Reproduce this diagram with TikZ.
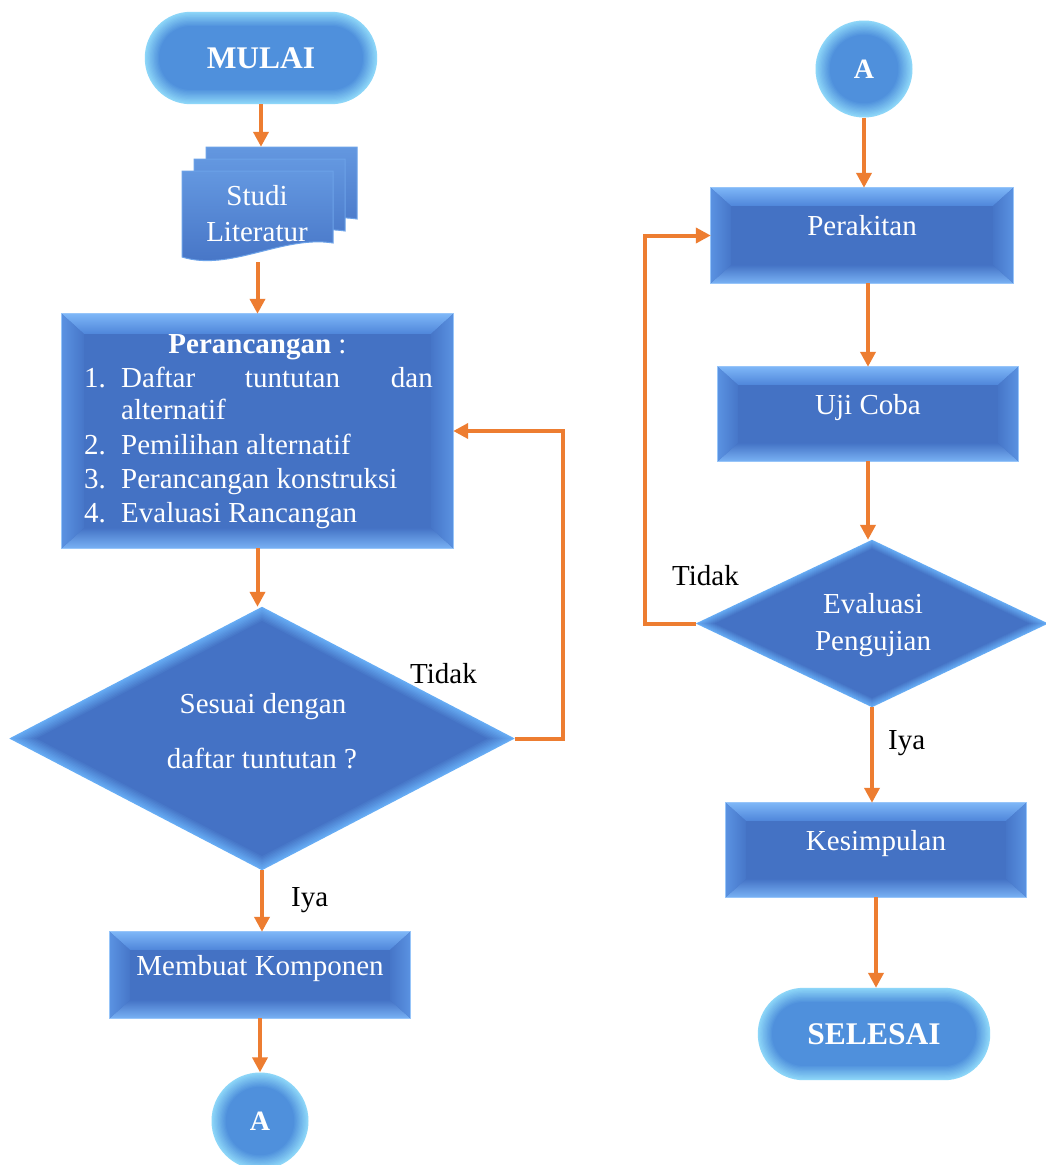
\documentclass[tikz,border=0pt]{standalone}
\usepackage{fontspec}
\setmainfont{Liberation Serif}
\usetikzlibrary{arrows.meta,calc,backgrounds}

\definecolor{face}{HTML}{4472C4}
\definecolor{bevlite}{HTML}{7DB6F7}
\definecolor{bevmid}{HTML}{4F86DA}
\definecolor{orng}{HTML}{ED7D31}
\definecolor{glowedge}{HTML}{8DD6F8}
\definecolor{glowcore}{HTML}{4E8FDC}
\definecolor{dmedge}{HTML}{66ACF4}

\newcommand\txtsz{\fontsize{29pt}{34pt}\selectfont}
\newcommand\capsz{\fontsize{31.5pt}{36pt}\selectfont\bfseries}

% bevelled process box drawn behind a node
\newcommand\bevelbox[3]{%
  \fill[face] (#1.north west) rectangle (#1.south east);
  \shade[top color=bevlite, bottom color=bevmid] (#1.north west) -- (#1.north east)
     -- ($(#1.north east)+(-#2,-#3)$) -- ($(#1.north west)+(#2,-#3)$) -- cycle;
  \shade[top color=face!90!bevmid, bottom color=bevlite!90!bevmid] (#1.south west) -- (#1.south east)
     -- ($(#1.south east)+(-#2,#3)$) -- ($(#1.south west)+(#2,#3)$) -- cycle;
  \shade[left color=bevmid!75!bevlite, right color=face!80!bevmid] (#1.north west)
     -- ($(#1.north west)+(#2,-#3)$) -- ($(#1.south west)+(#2,#3)$) -- (#1.south west) -- cycle;
  \shade[right color=bevmid!75!bevlite, left color=face!80!bevmid] (#1.north east)
     -- ($(#1.north east)+(-#2,-#3)$) -- ($(#1.south east)+(-#2,#3)$) -- (#1.south east) -- cycle;
  \draw[bevlite!80!white, line width=1pt] (#1.north west) rectangle (#1.south east);
}

% terminal with soft glowing rim
\newcommand\softpill[1]{%
  \foreach \k in {0,...,11}{%
    \pgfmathsetmacro\pins{1.3*\k}%
    \pgfmathsetmacro\prad{45.8-\pins}%
    \pgfmathtruncatemacro\pmix{100-9*\k}%
    \fill[glowedge!\pmix!glowcore, rounded corners=\prad pt]
      ($(#1.north west)+(\pins pt,-\pins pt)$) rectangle ($(#1.south east)+(-\pins pt,\pins pt)$);
  }}

% connector disc with soft rim
\newcommand\softdisc[1]{%
  \foreach \k in {0,...,11}{%
    \pgfmathsetmacro\drad{48.5-1.3*\k}%
    \pgfmathtruncatemacro\dmx{100-9*\k}%
    \fill[glowedge!\dmx!glowcore] (#1.center) circle[radius=\drad pt];
  }}

% decision diamond with soft rim, tips at the node's side anchors
\newcommand\softdiamond[1]{%
  \foreach \k in {0,...,9}{%
    \pgfmathsetmacro\dfac{1-0.012*\k}%
    \pgfmathtruncatemacro\dmix{100-11*\k}%
    \fill[dmedge!\dmix!face] ($(#1.center)!\dfac!(#1.north)$) -- ($(#1.center)!\dfac!(#1.east)$)
      -- ($(#1.center)!\dfac!(#1.south)$) -- ($(#1.center)!\dfac!(#1.west)$) -- cycle;
  }}

% one sheet of the multi-document symbol
\newcommand\docpage[2]{%
  \begin{scope}[shift={(#1,#2)}]
    \shadedraw[top color=bevlite!55!face, bottom color=face, draw=bevlite!70!face, line width=1pt]
      (0,0) -- (151,0) -- (151,72) .. controls (101,64) and (48,101) .. (0,86) -- cycle;
  \end{scope}}

\tikzset{
  flow/.style={draw=orng, line width=4pt, line join=miter, -{Triangle[length=15pt,width=15pt]}},
  boxnode/.style={rectangle, inner sep=0pt, text=white, font=\txtsz, text height=11pt, text depth=11pt},
  pillnode/.style={rectangle, inner sep=0pt, text=white, font=\capsz, minimum width=232pt, minimum height=92pt},
  discnode/.style={circle, inner sep=0pt, minimum size=97pt, text=white, font=\fontsize{28pt}{32pt}\selectfont\bfseries},
  region/.style={rectangle, inner sep=0pt},
  wtext/.style={text=white, font=\txtsz, inner sep=0pt},
  ktext/.style={text=black, font=\txtsz, inner sep=0pt},
}

\begin{document}
\begin{tikzpicture}[x=1pt, y=-1pt]
\useasboundingbox (0,0) rectangle (1046,1165);

% ---------- left column ----------
\node[pillnode] (mulai) at (261,58) {MULAI};
\node[region, minimum width=175pt, minimum height=115pt] (studi) at (269.5,204.5) {};
\node[wtext, anchor=base] (studi1) at (257,205) {Studi};
\node[wtext, anchor=base] (studi2) at (257,241) {Literatur};

\node[region, minimum width=391pt, minimum height=234pt] (peran) at (257.5,431) {};
\node[wtext, anchor=base] (ptitle) at (257.5,353) {\textbf{Perancangan} :};
\node[wtext, anchor=base west] (pn1) at (84,387) {1.};
\node[wtext, anchor=base west] (pl1a) at (121,387) {Daftar};
\node[wtext, anchor=base] (pl1b) at (292.5,387) {tuntutan};
\node[wtext, anchor=base east] (pl1c) at (433,387) {dan};
\node[wtext, anchor=base west] (pl1d) at (121,419) {alternatif};
\node[wtext, anchor=base west] (pn2) at (84,454) {2.};
\node[wtext, anchor=base west] (pl2) at (121,454) {Pemilihan alternatif};
\node[wtext, anchor=base west] (pn3) at (84,488) {3.};
\node[wtext, anchor=base west] (pl3) at (121,488) {Perancangan konstruksi};
\node[wtext, anchor=base west] (pn4) at (84,522) {4.};
\node[wtext, anchor=base west] (pl4) at (121,522) {Evaluasi Rancangan};

\node[region, minimum width=505pt, minimum height=263pt] (cek) at (262,738.5) {};
\node[wtext, anchor=base] (cek1) at (263,713) {Sesuai dengan};
\node[wtext, anchor=base] (cek2) at (262,768) {daftar tuntutan ?};

\node[boxnode, minimum width=300pt, minimum height=86pt] (buat) at (260,975) {Membuat Komponen};
\node[discnode] (a1) at (260,1121) {A};

% ---------- right column ----------
\node[discnode] (a2) at (864,69) {A};
\node[boxnode, minimum width=302pt, minimum height=95pt] (rakit) at (862,235.5) {Perakitan};
\node[boxnode, minimum width=300pt, minimum height=94pt] (uji) at (868,414) {Uji Coba};
\node[region, minimum width=352pt, minimum height=167pt] (eval) at (872,623.5) {};
\node[wtext, anchor=base] (eval1) at (873,613) {Evaluasi};
\node[wtext, anchor=base] (eval2) at (873,650) {Pengujian};
\node[boxnode, minimum width=300pt, minimum height=94pt] (simpul) at (876,850) {Kesimpulan};
\node[pillnode] (selesai) at (874,1034) {SELESAI};

% ---------- branch labels ----------
\node[ktext, anchor=base west] (tidak1) at (410,683) {Tidak};
\node[ktext, anchor=base west] (iya1) at (291,906) {Iya};
\node[ktext, anchor=base west] (tidak2) at (672,585) {Tidak};
\node[ktext, anchor=base west] (iya2) at (888,749) {Iya};

% ---------- shapes ----------
\begin{pgfonlayer}{background}
  \fill[white] (0,0) rectangle (1046,1165);
  \softpill{mulai}
  \softpill{selesai}
  \docpage{206}{147}
  \docpage{194}{159}
  \docpage{182}{171}
  \bevelbox{peran}{22pt}{20pt}
  \softdiamond{cek}
  \bevelbox{buat}{20pt}{18pt}
  \softdisc{a1}
  \softdisc{a2}
  \bevelbox{rakit}{20pt}{18pt}
  \bevelbox{uji}{20pt}{18pt}
  \softdiamond{eval}
  \bevelbox{simpul}{20pt}{18pt}
\end{pgfonlayer}

% ---------- connectors ----------
\draw[flow] (mulai.south) -- (mulai.south |- studi.north);
\draw[flow] (peran.north |- studi.south) -- (peran.north);
\draw[flow] (peran.south) -- (peran.south |- cek.north);
\draw[flow] (cek.south) -- (cek.south |- buat.north);
\draw[flow] (buat.south) -- (buat.south |- a1.north);
\draw[flow] (cek.east) -- ++(48,0) |- (peran.east);

\draw[flow] (a2.south) -- (a2.south |- rakit.north);
\draw[flow] (uji.north |- rakit.south) -- (uji.north);
\draw[flow] (uji.south) -- (uji.south |- eval.north);
\draw[flow] (eval.south) -- (eval.south |- simpul.north);
\draw[flow] (eval.west) -- ++(-51,0) |- (rakit.west);
\draw[flow] (simpul.south) -- (simpul.south |- selesai.north);
\end{tikzpicture}
\end{document}
